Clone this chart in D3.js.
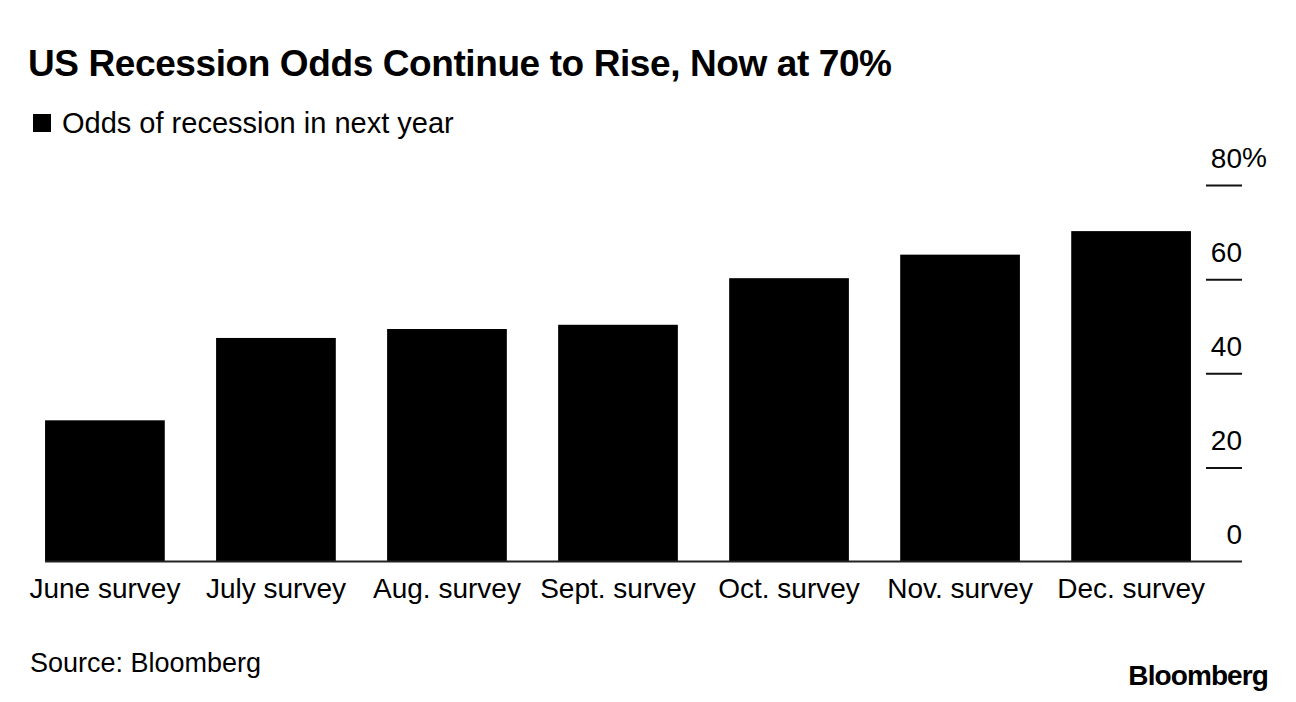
<!DOCTYPE html>
<html>
<head>
<meta charset="utf-8">
<script src="https://cdn.jsdelivr.net/npm/d3@7"></script>
<style>
  body { margin: 0; background: #fff; }
  text { font-family: "Liberation Sans", Arial, Helvetica, sans-serif; fill: #000; }
</style>
</head>
<body>
<script>
const surveys = ['June survey', 'July survey', 'Aug. survey', 'Sept. survey', 'Oct. survey', 'Nov. survey', 'Dec. survey'];
const odds = [30, 47.5, 49.4, 50.3, 60.2, 65.2, 70.2];
const yTicks = [0, 20, 40, 60, 80];

const width = 1296, height = 702;

const svg = d3.select('body').append('svg')
  .attr('width', width)
  .attr('height', height);

// title + legend
svg.append('text')
  .attr('x', 28).attr('y', 76)
  .style('font-size', '37px').style('font-weight', 'bold')
  .style('letter-spacing', '-0.4px')
  .text('US Recession Odds Continue to Rise, Now at 70%');

svg.append('rect')
  .attr('x', 33).attr('y', 114).attr('width', 18).attr('height', 18)
  .attr('fill', '#000');
svg.append('text')
  .attr('x', 62).attr('y', 133)
  .style('font-size', '29px')
  .text('Odds of recession in next year');

// scales
let x = d3.scaleBand()
  .domain(surveys)
  .range([19.4, 1216.6])
  .paddingInner(0.3)
  .paddingOuter(0.15);

let y = d3.scaleLinear()
  .domain([0, 80])
  .range([561.5, 185]);

// bars
svg.selectAll('.bar')
  .data(surveys)
  .enter()
  .append('rect')
  .attr('class', 'bar')
  .attr('x', (d) => x(d))
  .attr('y', (d, i) => y(odds[i]))
  .attr('width', x.bandwidth())
  .attr('height', (d, i) => y(0) - y(odds[i]))
  .attr('fill', '#000');

// baseline
svg.append('line')
  .attr('x1', x(surveys[0])).attr('x2', 1242)
  .attr('y1', y(0)).attr('y2', y(0))
  .attr('stroke', '#222').attr('stroke-width', 2);

// right axis: ticks to the left of x=1242, labels above ticks
let yAxis = d3.axisLeft(y)
  .tickValues(yTicks)
  .tickSize(36)
  .tickFormat((d) => d);

let ax = svg.append('g')
  .attr('transform', 'translate(1242,0)')
  .call(yAxis);

ax.select('.domain').remove();
ax.selectAll('.tick line')
  .attr('stroke', '#111').attr('stroke-width', 2)
  .filter((d) => d === 0).remove();
ax.selectAll('.tick text')
  .attr('x', 0).attr('dy', null).attr('y', -18)
  .attr('text-anchor', 'end')
  .style('font-size', '28px')
  .style('font-family', '"Liberation Sans", Arial, sans-serif');

svg.append('text')
  .attr('x', 1242).attr('y', y(80) - 18)
  .style('font-size', '28px')
  .text('%');

// category labels
svg.selectAll('.lbl')
  .data(surveys)
  .enter()
  .append('text')
  .attr('class', 'lbl')
  .attr('x', (d) => x(d) + x.bandwidth() / 2)
  .attr('y', 598)
  .attr('text-anchor', 'middle')
  .style('font-size', '28px')
  .text((d) => d);

// footer
svg.append('text')
  .attr('x', 30).attr('y', 672)
  .style('font-size', '27px')
  .text('Source: Bloomberg');

svg.append('text')
  .attr('x', 1268).attr('y', 685)
  .attr('text-anchor', 'end')
  .style('font-size', '28px').style('font-weight', 'bold')
  .style('letter-spacing', '-0.9px')
  .text('Bloomberg');
</script>
</body>
</html>
